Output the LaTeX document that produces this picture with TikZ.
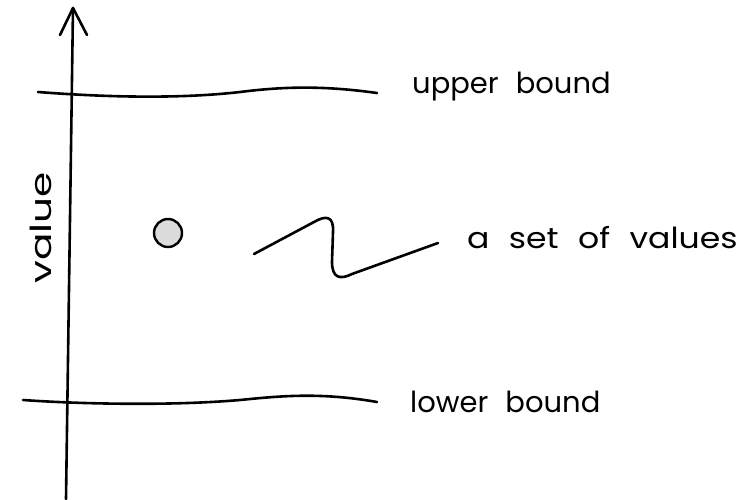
\documentclass[tikz,border=0pt]{standalone}
\usepackage{graphicx}
\usepackage{fontspec}
\setmainfont{Poppins}[WordSpace=2.2]
\begin{document}
\begin{tikzpicture}[x=1pt,y=-1pt,
  stroke/.style={line width=2.6pt,line cap=round,line join=round,black},
  lbl/.style={font=\fontsize{29}{34}\selectfont,inner sep=0pt,anchor=base west}]
\useasboundingbox (0,0) rectangle (744,499);
% axis
\coordinate (axtop) at (73,8);
\coordinate (axbot) at (66,499);
\draw[stroke] (axbot) -- (axtop);
\draw[stroke] (60,35) -- (axtop) -- (87,35);
% bounds
\draw[stroke] (38,92) .. controls (90,96) and (170,100) .. (240,92) .. controls (280,87) and (320,85) .. (377,93);
\draw[stroke] (23,400) .. controls (80,404) and (170,406) .. (240,400) .. controls (280,396) and (320,392) .. (377,402);
% point
\node[circle,draw,line width=2.4pt,fill=black!14,minimum size=28pt,inner sep=0pt] (pt) at (168,233) {};
% squiggle
\draw[stroke] (254,254) -- (314,222) .. controls (326,215) and (334,216) .. (333,232) -- (332,262) .. controls (332,278) and (340,280) .. (352,274) -- (438,243);
% labels
\node[lbl] (ub) at (412,93) {upper bound};
\node[lbl] (sv) at (467,248) {\scalebox{1.14}[1]{a set of values}};
\node[lbl] (lb) at (410,412) {lower bound};
\node[lbl,rotate=90,anchor=base] (val) at (51,228) {\scalebox{1.4}[1]{value}};
\end{tikzpicture}
\end{document}
